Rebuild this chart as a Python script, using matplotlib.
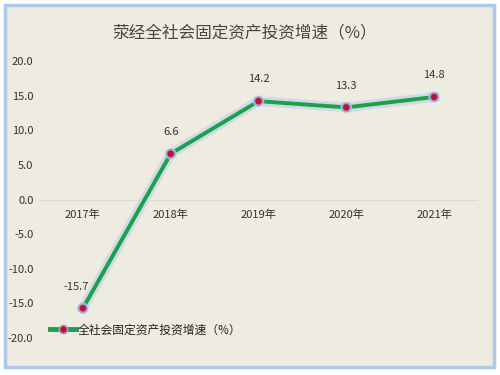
import matplotlib.pyplot as plt
import matplotlib.patheffects as pe
from matplotlib.patches import Rectangle
from matplotlib.lines import Line2D

# 数据
years = ['2017年', '2018年', '2019年', '2020年', '2021年']
growth = [-15.7, 6.6, 14.2, 13.3, 14.8]
yticks = [20, 15, 10, 5, 0, -5, -10, -15, -20]

title = '荥经全社会固定资产投资增速（%）'
series_name = '全社会固定资产投资增速（%）'

cjk = ['Noto Sans CJK SC', 'DejaVu Sans']
narrow = ['Liberation Sans Narrow', 'Noto Sans CJK SC', 'DejaVu Sans']
plt.rcParams['font.family'] = cjk

fig = plt.figure(figsize=(5, 3.75), dpi=100)
fig.patch.set_facecolor('white')

# 背景面板
panel = Rectangle((5 / 500, 8 / 375), 489 / 500, 362 / 375, transform=fig.transFigure,
                  facecolor='#EEEBE1', edgecolor='#AFC7E9', linewidth=2.5, zorder=-5)
fig.patches.append(panel)

ax = fig.add_axes([39 / 500, 37 / 375, 439 / 500, 277 / 375])
ax.set_zorder(2)
ax.set_facecolor('none')

x = list(range(len(years)))
green = '#1BA14A'
# 折线 + 发光效果
ax.plot(x, growth, color=green, linewidth=2.8, zorder=3,
        path_effects=[pe.Stroke(linewidth=7, foreground='#C3D2EA', alpha=0.7), pe.Normal()])
ax.plot(x, growth, linestyle='none', marker='o', markersize=6,
        markerfacecolor='#C8102E', markeredgecolor='#93ABD9', markeredgewidth=1.2, zorder=4,
        path_effects=[pe.Stroke(linewidth=2.5, foreground='#C3D2EA', alpha=0.7), pe.Normal()])

for i, v in zip(x, growth):
    dx = -0.08 if v < 0 else 0
    ax.annotate(f'{v:.1f}', (i + dx, v), textcoords='offset points', xytext=(0, 12),
                ha='center', va='bottom', fontsize=8, color='#333333', family=narrow)

ax.axhline(0, color='#D9D9D9', linewidth=0.8, zorder=1)

ax.set_xlim(-0.5, len(years) - 0.5)
ax.set_ylim(-20, 20)
ax.set_yticks(yticks)
ax.set_yticklabels([f'{t:.1f}' for t in yticks], family=narrow, fontsize=8, color='#333333')
ax.set_xticks([])
for i, name in enumerate(years):
    ax.text(i, -1.4, name, ha='center', va='top', fontsize=8, color='#333333', family=narrow)

ax.tick_params(axis='y', length=0, pad=4)
for s in ax.spines.values():
    s.set_visible(False)

fig.text(0.49, 0.912, title, ha='center', va='center', fontsize=12, color='#454545')

handle = Line2D([], [], color=green, linewidth=3.5, marker='o', markersize=6,
                markerfacecolor='#C8102E', markeredgecolor='#93ABD9', markeredgewidth=1.2)
leg = ax.legend([handle], [series_name], loc='lower left', bbox_to_anchor=(0.01, -0.02),
                frameon=False, prop={'family': cjk, 'size': 8.5}, handlelength=2.2,
                handletextpad=0.1, borderaxespad=0.2)
for t in leg.get_texts():
    t.set_color('#222222')

fig.savefig('out.png', dpi=100)
